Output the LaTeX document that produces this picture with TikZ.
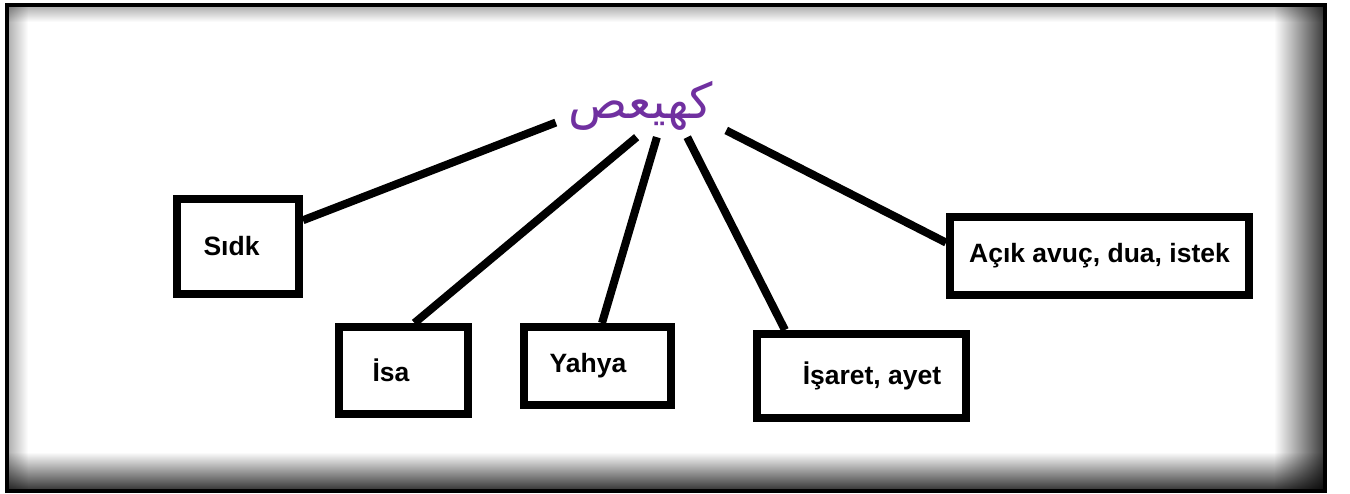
\documentclass[tikz,border=0pt]{standalone}
\usepackage{fontspec}
\setmainfont{Liberation Sans}
\newfontfamily\arabicfont[Script=Arabic]{DejaVu Sans}
\TeXXeTstate=1
\definecolor{kafpurple}{HTML}{7030A0}
\tikzset{%
  itembox/.style = {shape=rectangle, draw, line width=8pt, inner sep=0pt,%
                    font=\bfseries\fontsize{26.5}{30}\selectfont},%
  title/.style   = {shape=rectangle, inner sep=0pt, text=kafpurple,%
                    minimum width=170pt, minimum height=62pt,%
                    font=\arabicfont\fontsize{49}{52}\selectfont},%
  link/.style    = {line width=8pt}%
}
\begin{document}
\begin{tikzpicture}[x=1pt,y=-1pt]
	\fill[white] (0,0) rectangle (1350,494);
	% inner shadow of the frame
	\begin{scope}[blend mode=multiply]
		\shade[left color=white, right color=black!75] (1274,7) rectangle (1323,488);
		\shade[top color=white, bottom color=black!75] (9,452) rectangle (1323,488);
		\shade[top color=black!30, bottom color=white] (9,7) rectangle (1323,22);
		\shade[left color=black!30, right color=white] (9,7) rectangle (28,488);
	\end{scope}
	\draw[line width=4pt] (7,5) rectangle (1325,490.5);
	\node[title] (kaf) at (641,106) {\beginR كهيعص\endR};
	\node[itembox, minimum width=122pt, minimum height=95pt] (sidk) at (238,246.5) {Sıdk\hspace*{13pt}};
	\node[itembox, minimum width=129pt, minimum height=87pt] (isa) at (403.5,370.5) {İsa\hspace*{25pt}};
	\node[itembox, minimum width=147pt, minimum height=78pt] (yahya) at (597.5,366) {Yahya\hspace*{19pt}};
	\node[itembox, minimum width=209pt, minimum height=84pt] (isaret) at (861.5,376) {\hspace*{21pt}İşaret, ayet};
	\node[itembox, minimum width=299pt, minimum height=78pt] (acik) at (1099.5,256) {Açık avuç, dua, istek};
	\draw[link] (kaf.191) -- (sidk.22);
	\draw[link] (kaf.262) -- (isa.77);
	\draw[link] (kaf.297) -- (yahya.84);
	\draw[link] (kaf.326) -- (isaret.149);
	\draw[link] (kaf.344) -- (acik.175);
\end{tikzpicture}
\end{document}
